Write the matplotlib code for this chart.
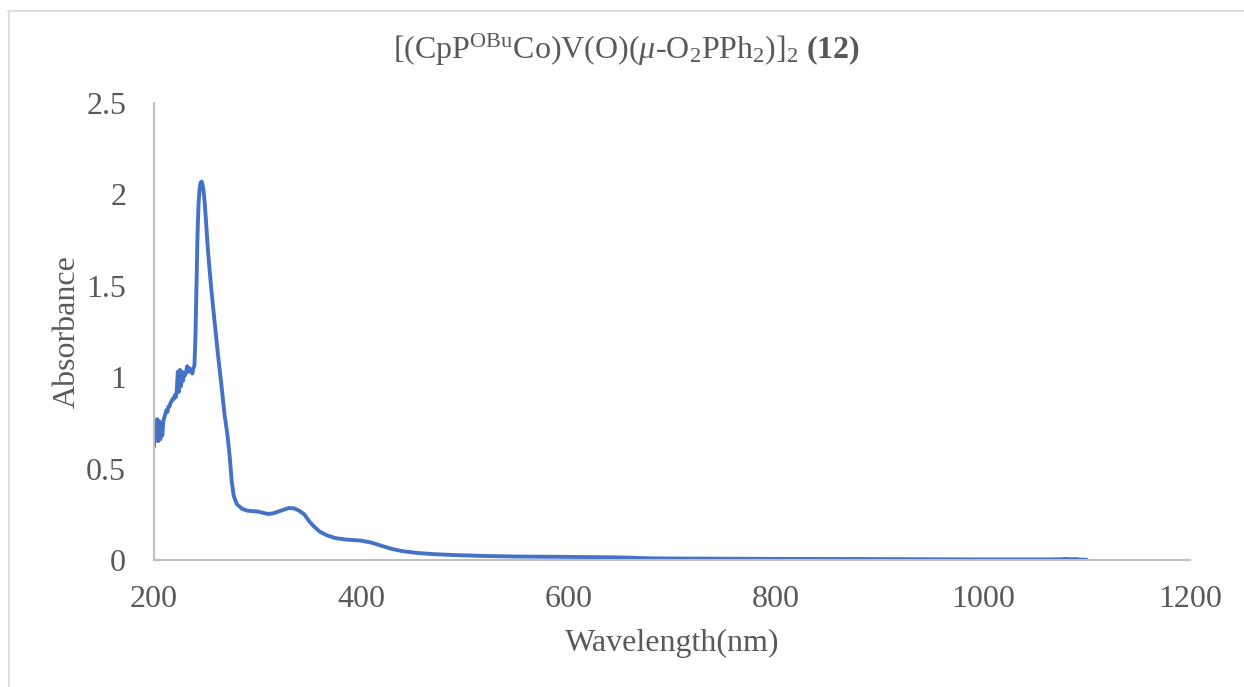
import matplotlib
matplotlib.use("Agg")
import matplotlib.pyplot as plt
from matplotlib.lines import Line2D

# UV-Vis spectrum
wavelength = [
    200, 201, 202, 203, 204, 205, 206, 207, 208, 209,
    210, 211, 212, 213, 214, 215, 216, 217, 218, 219,
    220, 221, 222, 223, 224, 225, 226, 227, 228, 229,
    230, 231, 232, 233, 234, 235, 236, 237, 238, 239,
    240, 241, 242, 243, 244, 245, 246, 247, 248, 249,
    250, 252, 255, 258, 262, 265, 268, 271, 273, 275,
    277, 280, 285, 290, 300, 310, 315, 320, 330, 335,
    340, 345, 350, 355, 360, 367, 375, 385, 400, 410,
    420, 430, 440, 455, 470, 490, 520, 550, 600, 650,
    680, 700, 800, 900, 1000, 1060, 1075, 1080, 1085, 1090,
    1095, 1100,
]
absorbance = [
    0.62, 0.74, 0.66, 0.77, 0.65, 0.76, 0.66, 0.75, 0.68, 0.76,
    0.78, 0.80, 0.82, 0.81, 0.84, 0.84, 0.86, 0.87, 0.88, 0.88,
    0.90, 0.89, 0.93, 1.03, 0.92, 1.04, 0.95, 1.03, 0.98, 1.02,
    1.01, 1.03, 1.06, 1.03, 1.05, 1.04, 1.03, 1.02, 1.05, 1.06,
    1.22, 1.50, 1.78, 1.95, 2.03, 2.065, 2.07, 2.05, 2.01, 1.95,
    1.87, 1.70, 1.50, 1.33, 1.11, 0.96, 0.80, 0.68, 0.57, 0.43,
    0.35, 0.305, 0.28, 0.27, 0.265, 0.252, 0.255, 0.265, 0.284, 0.283,
    0.27, 0.25, 0.21, 0.18, 0.155, 0.135, 0.12, 0.112, 0.106, 0.095,
    0.077, 0.06, 0.048, 0.038, 0.032, 0.027, 0.022, 0.019, 0.017, 0.014,
    0.009, 0.008, 0.006, 0.005, 0.003, 0.003, 0.004, 0.006, 0.004, 0.005,
    0.002, 0.002,
]
x_ticks = [200, 400, 600, 800, 1000, 1200]
y_ticks = [0, 0.5, 1, 1.5, 2, 2.5]
y_tick_labels = ["0", "0.5", "1", "1.5", "2", "2.5"]

plt.rcParams["font.family"] = ["Liberation Serif", "DejaVu Serif"]
plt.rcParams["mathtext.fontset"] = "custom"
plt.rcParams["mathtext.rm"] = "Liberation Serif"
plt.rcParams["mathtext.it"] = "Liberation Serif:italic"
plt.rcParams["mathtext.bf"] = "Liberation Serif:bold"

TEXT = "#595959"
AXIS = "#BFBFBF"
LINE = "#4472C4"
FS = 23

fig = plt.figure(figsize=(12.44, 6.87), dpi=100)
ax = fig.add_axes([154 / 1244, 1 - 560 / 687, (1190 - 154) / 1244, (560 - 103) / 687])

ax.plot(wavelength, absorbance, color=LINE, linewidth=2.8,
        solid_joinstyle="round", solid_capstyle="round")

ax.set_xlim(200, 1200)
ax.set_ylim(0, 2.5)
ax.set_xticks(x_ticks)
ax.set_xticklabels([str(v) for v in x_ticks])
ax.set_yticks(y_ticks)
ax.set_yticklabels(y_tick_labels)
ax.tick_params(axis="both", length=0, labelsize=FS, labelcolor=TEXT)
ax.tick_params(axis="y", pad=20)
ax.tick_params(axis="x", pad=18)

for side in ("top", "right"):
    ax.spines[side].set_visible(False)
for side in ("left", "bottom"):
    ax.spines[side].set_color(AXIS)
    ax.spines[side].set_linewidth(1.5)

ax.set_xlabel("Wavelength(nm)", fontsize=FS, color=TEXT, labelpad=11)
ax.set_ylabel("Absorbance", fontsize=FS, color=TEXT, labelpad=3)

fig.text(0.504, 1 - 50 / 687,
         r"[(CpP$^{\mathrm{OBu}}$Co)V(O)($\mu$-O$_2$PPh$_2$)]$_2$ $\mathbf{(12)}$",
         ha="center", va="center", fontsize=FS, color=TEXT)

# chart-area frame
fig.add_artist(Line2D([8 / 1244, 1.0], [1 - 11 / 687, 1 - 11 / 687],
                      transform=fig.transFigure, color="#D9D9D9", linewidth=1.2))
fig.add_artist(Line2D([8.5 / 1244, 8.5 / 1244], [0.0, 1 - 11 / 687],
                      transform=fig.transFigure, color="#D9D9D9", linewidth=1.2))

fig.savefig("out.png", dpi=100, facecolor="white")
